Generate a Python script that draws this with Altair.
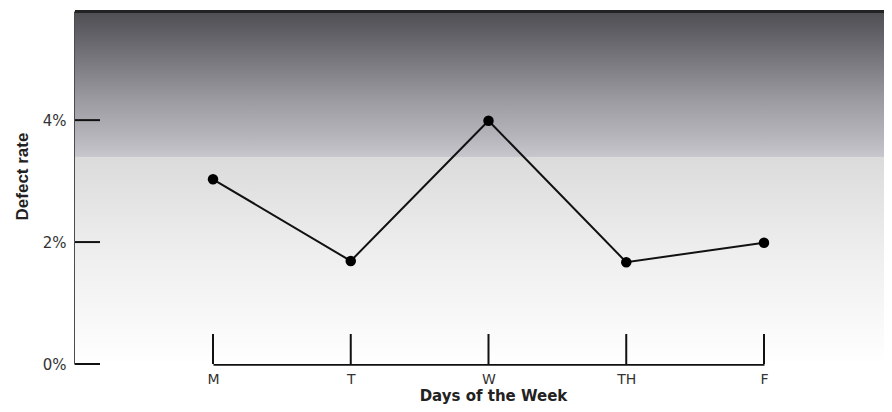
import altair as alt
import pandas as pd

days = ["M", "T", "W", "TH", "F"]
defect_rate = [0.0303, 0.0169, 0.0399, 0.0167, 0.0199]
y_ticks = [0.0, 0.02, 0.04]

W = 809
H = 353

df = pd.DataFrame({"day": days, "rate": defect_rate})
ticks_df = pd.DataFrame({"v": y_ticks})

xscale = alt.Scale(type="point", domain=days, range=[138, 689], padding=0)
yscale = alt.Scale(domain=[0, 0.0579], nice=False, zero=True)

xaxis = alt.Axis(title="Days of the Week", labelAngle=0, tickSize=0,
                 domainColor="#111111", domainWidth=2.5,
                 labelFont="DejaVu Sans", labelFontSize=14, labelColor="#333333",
                 labelPadding=8, labelAlign="center", labelBaseline="top",
                 titleFont="DejaVu Sans", titleFontSize=15, titleFontWeight="bold",
                 titleColor="#222222", titleX=418, titleY=36,
                 titleBaseline="alphabetic")
yaxis = alt.Axis(title="Defect rate", values=y_ticks, format=".0%", tickSize=0,
                 grid=False, domainColor="#111111", domainWidth=2.5,
                 labelFont="DejaVu Sans", labelFontSize=15, labelColor="#333333",
                 labelPadding=9,
                 titleFont="Liberation Sans", titleFontSize=17, titleFontWeight="bold",
                 titleColor="#222222", titleX=-48, titleY=165,
                 titleBaseline="alphabetic")

xenc = alt.X("day:N", scale=xscale, sort=days, axis=xaxis)
yenc = alt.Y("rate:Q", scale=yscale, axis=yaxis)

grad = alt.Gradient(
    gradient="linear",
    x1=0, x2=0, y1=0, y2=1,
    stops=[
        alt.GradientStop(offset=0.0, color="#4e4e52"),
        alt.GradientStop(offset=0.05, color="#5c5c62"),
        alt.GradientStop(offset=0.14, color="#78787e"),
        alt.GradientStop(offset=0.25, color="#9a9aa0"),
        alt.GradientStop(offset=0.36, color="#b6b6bc"),
        alt.GradientStop(offset=0.412, color="#c6c6cc"),
        alt.GradientStop(offset=0.414, color="#dbdbdb"),
        alt.GradientStop(offset=0.68, color="#eeeeee"),
        alt.GradientStop(offset=0.93, color="#fbfbfb"),
        alt.GradientStop(offset=1.0, color="#ffffff"),
    ],
)

bg = alt.Chart(pd.DataFrame({"a": [0]})).mark_rect(color=grad).encode(
    x=alt.value(0), x2=alt.value(W), y=alt.value(0), y2=alt.value(H)
)

top_border = alt.Chart(pd.DataFrame({"a": [0]})).mark_rule(color="#222222", strokeWidth=3).encode(
    x=alt.value(0), x2=alt.value(W), y=alt.value(0.5)
)

base = alt.Chart(df)

line = base.mark_line(color="#111111", strokeWidth=2).encode(x=xenc, y=yenc)

points = base.mark_circle(color="#000000", opacity=1, size=110).encode(x=xenc, y=yenc)

xticks = base.mark_rule(color="#111111", strokeWidth=2).encode(
    x=xenc,
    y=alt.value(H),
    y2=alt.value(H - 30),
)

yticks = alt.Chart(ticks_df).mark_rule(color="#111111", strokeWidth=2).encode(
    y=alt.Y("v:Q", scale=yscale, axis=yaxis),
    x=alt.value(0),
    x2=alt.value(25),
)

chart = alt.layer(bg, top_border, yticks, xticks, line, points).properties(
    width=W,
    height=H,
    autosize=alt.AutoSizeParams(type="none"),
    padding={"left": 67, "top": 3, "right": 0, "bottom": 40},
    background="white",
).configure_view(stroke=None)

chart.save("out.html", embed_options={"renderer": "svg", "actions": False})
